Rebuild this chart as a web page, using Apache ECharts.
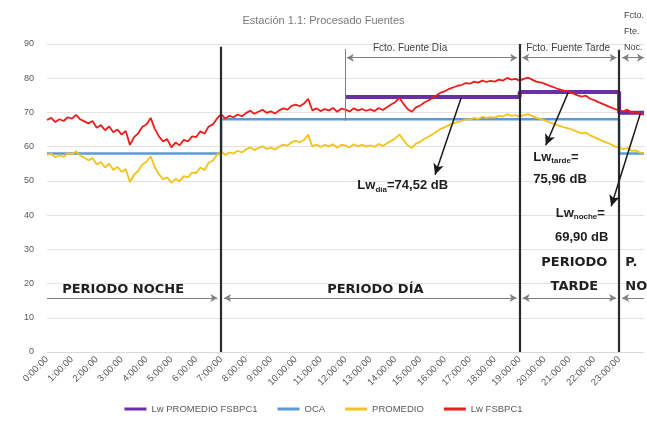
<!DOCTYPE html>
<html><head><meta charset="utf-8">
<script src="https://cdn.jsdelivr.net/npm/echarts@6/dist/echarts.min.js"></script>
<style>html,body{margin:0;padding:0;background:#fff}#c{width:647px;height:430px}</style>
</head><body><div id="c"></div>
<script>
// ---- data (10-minute samples, hours 0..24) ----
const sampleStepHours = 1 / 6;
const lwFSBPC1 = [
 67.8,68.4,67.2,68.0,67.5,68.6,
 68.2,69.3,68.0,67.4,66.8,67.5,
 65.5,66.3,64.8,65.9,64.2,65.0,
 63.5,64.6,60.5,62.8,63.9,65.8,
 66.5,68.4,65.2,63.0,61.5,62.2,
 59.8,61.2,60.4,62.0,61.5,63.0,
 62.8,64.5,63.8,65.9,66.5,68.2,
 69.5,68.2,69.0,68.6,69.4,68.9,
 69.8,70.5,69.6,70.2,70.8,69.9,
 70.3,69.7,70.6,71.2,70.8,71.9,
 72.3,71.8,72.6,74.0,70.6,71.2,
 70.4,71.0,70.6,71.3,70.2,71.1,
 70.8,70.3,71.2,70.6,71.0,70.5,
 70.9,70.4,71.3,70.7,71.5,72.3,
 73.0,74.3,72.5,71.0,70.2,71.5,
 72.0,72.9,73.5,74.2,75.0,75.8,
 76.2,76.9,77.3,77.8,78.0,78.6,
 78.4,79.0,78.7,79.3,78.9,79.2,
 79.0,79.6,79.3,80.1,79.6,79.8,
 79.3,79.8,80.2,79.6,79.0,78.8,
 78.4,77.9,77.5,77.0,76.6,76.3,
 76.0,75.5,75.0,74.6,74.9,74.0,
 73.6,73.0,72.5,72.0,71.5,71.0,
 70.6,70.3,70.8,69.9,70.2,69.6,
 69.4
];
const promedio = [
 57.6,58.0,56.9,57.5,57.0,58.1,
 57.8,58.6,57.4,56.8,56.0,56.7,
 54.8,55.5,53.9,55.0,53.2,54.1,
 52.6,53.5,49.6,51.8,52.9,54.8,
 55.6,57.2,54.0,51.9,50.5,51.0,
 49.5,50.6,49.9,51.4,51.0,52.4,
 52.3,53.9,53.2,55.3,55.9,57.6,
 58.6,57.6,58.3,58.0,58.8,58.3,
 59.2,59.8,59.0,59.6,60.1,59.3,
 59.7,59.2,60.0,60.6,60.3,61.3,
 61.7,61.3,62.0,63.5,60.1,60.6,
 59.9,60.5,60.1,60.7,59.7,60.6,
 60.3,59.8,60.7,60.1,60.5,60.0,
 60.4,59.9,60.8,60.2,61.0,61.7,
 62.4,63.6,61.9,60.4,59.6,60.9,
 61.4,62.3,62.9,63.6,64.4,65.2,
 65.7,66.3,66.8,67.2,67.5,68.0,
 67.9,68.4,68.1,68.7,68.4,68.6,
 68.5,69.0,68.8,69.5,69.0,69.2,
 68.8,69.2,69.5,69.0,68.4,68.1,
 67.7,67.2,66.8,66.3,65.9,65.6,
 65.3,64.8,64.3,63.9,64.1,63.3,
 62.8,62.2,61.7,61.2,60.7,60.1,
 59.7,59.3,59.6,58.8,58.9,58.3,
 58.0
];
const ocaHours = [0, 7, 7, 23, 23, 24];
const ocaVals  = [58, 58, 68, 68, 58, 58];
const lwPromHours = [12, 19, 19, 23, 23, 24];
const lwPromVals  = [74.52, 74.52, 75.96, 75.96, 69.90, 69.90];
const periodBounds = [7, 19, 23];
const seriesNames = ['Lw PROMEDIO FSBPC1', 'OCA', 'PROMEDIO', 'Lw FSBPC1'];
const lwDia = '74,52', lwTarde = '75,96', lwNoche = '69,90';

const pair = (xs, ys) => xs.map((x, i) => [x, ys[i]]);
const sampled = ys => ys.map((y, i) => [i * sampleStepHours, y]);

const FONT = 'Liberation Sans';
const chart = echarts.init(document.getElementById('c'), null, {renderer: 'canvas'});

const arrowPair = (a, b, v, heads) => [
  {coord: [a, v], symbol: heads[0] ? 'arrow' : 'none', symbolSize: [6, 7]},
  {coord: [b, v], symbol: heads[1] ? 'arrow' : 'none', symbolSize: [6, 7]}
];
const thin = {color: '#7f7f7f', width: 1, type: 'solid'};
const heavy = {color: '#2b2b2b', width: 2.2, type: 'solid'};
const diag = {color: '#1a1a1a', width: 1.5, type: 'solid'};

const markLines = [];
periodBounds.forEach((h, i) => {
  const top = [89.2, 90, 88.3][i];
  markLines.push([{coord: [h, 0], symbol: 'none', lineStyle: heavy}, {coord: [h, top], symbol: 'none'}]);
});
markLines.push([{coord: [12, 67.5], symbol: 'none', lineStyle: thin}, {coord: [12, 88.5], symbol: 'none'}]);
[[12.05, 18.9], [19.1, 22.9], [23.12, 24]].forEach(([a, b]) => {
  const p = arrowPair(a, b, 86.0, [true, true]); p[0].lineStyle = thin; markLines.push(p);
});
[[0, 6.85, [false, true]], [7.12, 18.88, [true, true]], [19.12, 22.88, [true, true]], [23.12, 24, [true, false]]].forEach(([a, b, hd]) => {
  const p = arrowPair(a, b, 15.8, hd); p[0].lineStyle = thin; markLines.push(p);
});
[[[16.65, 74.3], [15.6, 51.8]], [[20.95, 75.8], [20.05, 60.4]], [[23.85, 69.6], [22.68, 42.6]]].forEach(([s, e]) => {
  markLines.push([{coord: s, symbol: 'none', lineStyle: diag}, {coord: e, symbol: 'arrow', symbolSize: [8, 11]}]);
});

const colors = ['#6a2fa8', '#5b9bd5', '#f2c31b', '#ee1c1c'];
const option = {
  animation: false,
  textStyle: {fontFamily: FONT},
  title: {text: 'Estación 1.1: Procesado Fuentes', left: 'center', top: 10,
    textStyle: {fontSize: 11, fontWeight: 'normal', color: '#7a7a7a', fontFamily: FONT}},
  grid: {left: 47, right: 3, top: 44, bottom: 78},
  legend: {
    bottom: 11, left: 'center', itemWidth: 22, itemHeight: 3, itemGap: 20, icon: 'rect',
    data: seriesNames,
    textStyle: {fontSize: 9.5, color: '#595959', fontFamily: FONT}
  },
  xAxis: {
    type: 'value', min: 0, max: 24, interval: 1,
    axisLine: {show: true, lineStyle: {color: '#d9d9d9'}},
    axisTick: {show: false},
    splitLine: {show: false},
    axisLabel: {rotate: 45, fontSize: 9.5, color: '#595959', margin: 6,
      formatter: v => v < 24 ? v + ':00:00' : ''}
  },
  yAxis: {
    type: 'value', min: 0, max: 90, interval: 10,
    axisLine: {show: false}, axisTick: {show: false},
    splitLine: {lineStyle: {color: '#e3e3e3', width: 1}},
    axisLabel: {fontSize: 9, color: '#595959', margin: 13}
  },
  series: [
    {name: seriesNames[0], type: 'line', data: pair(lwPromHours, lwPromVals), showSymbol: false,
     lineStyle: {color: colors[0], width: 4}, itemStyle: {color: colors[0]}, z: 3},
    {name: seriesNames[1], type: 'line', data: pair(ocaHours, ocaVals), showSymbol: false,
     lineStyle: {color: colors[1], width: 2.5}, itemStyle: {color: colors[1]}, z: 2},
    {name: seriesNames[2], type: 'line', data: sampled(promedio), showSymbol: false,
     lineStyle: {color: colors[2], width: 1.8}, itemStyle: {color: colors[2]}, z: 2},
    {name: seriesNames[3], type: 'line', data: sampled(lwFSBPC1), showSymbol: false,
     lineStyle: {color: colors[3], width: 1.8}, itemStyle: {color: colors[3]}, z: 4},
    {name: 'ann', type: 'line', data: [], z: 5, silent: true,
     markLine: {silent: true, animation: false, label: {show: false}, emphasis: {disabled: true},
       data: markLines}}
  ]
};
chart.setOption(option);

const P = (h, v) => chart.convertToPixel({gridIndex: 0}, [h, v]);
const txt = (h, v, text, style, align) => {
  const [x, y] = P(h, v);
  return {type: 'text', x, y, z: 100, style: Object.assign({text, textAlign: align || 'center', textVerticalAlign: 'middle',
    fontFamily: FONT}, style)};
};
const small = {fontSize: 10, fill: '#404040'};
const tiny = {fontSize: 9, fill: '#404040'};
const bold = {fontSize: 13, fontWeight: 'bold', fill: '#1f1f1f', fontFamily: 'DejaVu Sans'};
const lwStyle = {fontSize: 13, fontWeight: 'bold', fill: '#1f1f1f'};
const rich = {
  a: {fontSize: 13, fontWeight: 'bold', fill: '#1f1f1f', fontFamily: FONT, lineHeight: 16},
  s: {fontSize: 8, fontWeight: 'bold', fill: '#1f1f1f', fontFamily: FONT, lineHeight: 16, verticalAlign: 'bottom'}
};
const richTxt = (h, v, text, align) => {
  const [x, y] = P(h, v);
  return {type: 'text', x, y, z: 100, style: {text, rich, textAlign: align || 'left', textVerticalAlign: 'middle', fontFamily: FONT}};
};
chart.setOption({graphic: [
  txt(14.6, 88.9, 'Fcto. Fuente Día', small),
  txt(20.95, 88.9, 'Fcto. Fuente Tarde', small),
  txt(23.2, 98.2, 'Fcto.', tiny, 'left'),
  txt(23.2, 93.6, 'Fte.', tiny, 'left'),
  txt(23.2, 88.9, 'Noc.', tiny, 'left'),
  txt(3.06, 18.2, 'PERIODO NOCHE', bold),
  txt(13.2, 18.2, 'PERIODO DÍA', bold),
  txt(21.2, 26.0, 'PERIODO', bold),
  txt(21.2, 19.0, 'TARDE', bold),
  txt(23.25, 26.0, 'P.', bold, 'left'),
  txt(23.25, 19.0, 'NO', bold, 'left'),
  richTxt(14.3, 48.6, '{a|Lw}{s|día}{a|=' + lwDia + ' dB}', 'center'),
  richTxt(19.55, 57.0, '{a|Lw}{s|tarde}{a|=}'),
  txt(19.55, 50.3, lwTarde + ' dB', lwStyle, 'left'),
  richTxt(20.45, 40.6, '{a|Lw}{s|noche}{a|=}'),
  txt(20.42, 33.6, lwNoche + ' dB', lwStyle, 'left')
]});
</script>
</body></html>
